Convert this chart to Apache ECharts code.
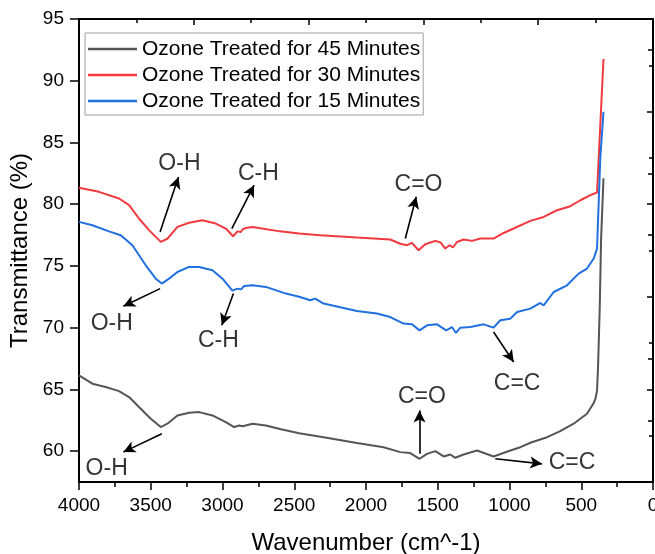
<!DOCTYPE html>
<html>
<head>
<meta charset="utf-8">
<script src="https://cdn.jsdelivr.net/npm/echarts@6/dist/echarts.min.js"></script>
<style>
  html, body { margin: 0; padding: 0; background: #fff; }
  #canvas { width: 655px; height: 554px; }
</style>
</head>
<body>
<div id="canvas"></div>
<script>
// legend names
var names = ['Ozone Treated for 45 Minutes', 'Ozone Treated for 30 Minutes', 'Ozone Treated for 15 Minutes'];

// 45 minutes (black)
var wn45 = [4000, 3907, 3814, 3721, 3651, 3582, 3500, 3430, 3384, 3314, 3233, 3163, 3070, 2977, 2919, 2884, 2860, 2791, 2698, 2600, 2466, 2296, 2063, 1878, 1761, 1692, 1627, 1575, 1517, 1459, 1413, 1378, 1320, 1226, 1111, 994, 924, 850, 738, 650, 553, 460, 413, 401, 390, 383, 371, 362, 345];
var t45 = [66.14, 65.46, 65.19, 64.86, 64.38, 63.57, 62.62, 61.95, 62.22, 62.89, 63.11, 63.16, 62.89, 62.35, 61.95, 62.08, 62.02, 62.22, 62.08, 61.8, 61.45, 61.13, 60.65, 60.32, 59.92, 59.84, 59.38, 59.78, 60.0, 59.57, 59.73, 59.46, 59.73, 60.05, 59.57, 60.05, 60.32, 60.7, 61.13, 61.6, 62.22, 63.03, 63.9, 64.25, 64.9, 66.8, 71.7, 77.1, 82.1];

// 30 minutes (red)
var wn30 = [4000, 3861, 3721, 3651, 3582, 3512, 3430, 3384, 3314, 3233, 3140, 3047, 2977, 2926, 2896, 2872, 2860, 2837, 2791, 2600, 2466, 2319, 2063, 1831, 1761, 1715, 1680, 1634, 1587, 1517, 1480, 1448, 1418, 1394, 1366, 1320, 1261, 1203, 1111, 1041, 971, 855, 762, 669, 576, 506, 436, 390, 345];
var t30 = [81.33, 81.0, 80.46, 79.92, 78.84, 77.9, 76.95, 77.2, 78.16, 78.5, 78.7, 78.43, 78.03, 77.4, 77.8, 77.75, 77.95, 78.08, 78.16, 77.8, 77.62, 77.49, 77.3, 77.14, 76.8, 76.68, 76.87, 76.27, 76.76, 77.03, 76.9, 76.41, 76.68, 76.49, 76.94, 77.14, 77.03, 77.22, 77.22, 77.67, 78.03, 78.65, 78.97, 79.51, 79.84, 80.32, 80.73, 80.95, 91.76];

// 15 minutes (blue)
var wn15 = [4000, 3907, 3791, 3709, 3628, 3535, 3465, 3423, 3372, 3314, 3233, 3163, 3070, 3000, 2931, 2896, 2870, 2849, 2791, 2698, 2558, 2466, 2389, 2354, 2296, 2063, 1924, 1831, 1738, 1680, 1627, 1575, 1505, 1441, 1401, 1373, 1343, 1273, 1180, 1111, 1064, 994, 947, 855, 785, 762, 692, 599, 518, 460, 413, 390, 378, 367, 345];
var t15 = [78.57, 78.3, 77.8, 77.49, 76.68, 75.05, 73.97, 73.57, 73.97, 74.51, 74.92, 74.92, 74.65, 73.97, 73.0, 73.16, 73.1, 73.38, 73.43, 73.3, 72.76, 72.5, 72.22, 72.35, 71.95, 71.35, 71.14, 70.86, 70.33, 70.27, 69.78, 70.19, 70.27, 69.78, 70.05, 69.57, 70.0, 70.05, 70.27, 70.0, 70.6, 70.73, 71.27, 71.54, 72.0, 71.8, 72.89, 73.43, 74.38, 74.79, 75.6, 76.4, 80.3, 83.8, 87.49];

// axis ticks
var yMajor = [60, 65, 70, 75, 80, 85, 90, 95];
var yMinor = [62.5, 67.5, 72.5, 77.5, 82.5, 87.5, 92.5];

// annotations: label text, label position, arrow tail, arrow tip (data units)
var notes = [
	{ text: 'O-H', at: [3300, 83.3], from: [3435, 77.75], to: [3307, 82.2] },
	{ text: 'C-H', at: [2750, 82.5], from: [2935, 78.03], to: [2780, 81.54] },
	{ text: 'C=O', at: [1634, 81.55], from: [1726, 77.22], to: [1650, 80.6] },
	{ text: 'O-H', at: [3772, 70.33], from: [3435, 73.16], to: [3691, 71.73] },
	{ text: 'C-H', at: [3029, 68.97], from: [2924, 72.76], to: [3005, 70.19] },
	{ text: 'C=C', at: [947, 65.46], from: [1111, 69.65], to: [971, 67.22] },
	{ text: 'O-H', at: [3807, 58.57], from: [3423, 61.41], to: [3691, 59.92] },
	{ text: 'C=O', at: [1610, 64.38], from: [1627, 59.78], to: [1627, 63.3] },
	{ text: 'C=C', at: [564, 59.05], from: [1099, 59.38], to: [773, 58.97] }
];

var colors = ['#555555', '#f03a3f', '#2170e0'];
var font = 'Liberation Sans, Arial, sans-serif';

function zip(xs, ys) {
	return xs.map(function (x, i) { return [x, ys[i]]; });
}

var myChart = echarts.init(document.getElementById('canvas'), null, { renderer: 'canvas' });

var option = {
	animation: false,
	textStyle: { fontFamily: font, color: '#000' },
	grid: { left: 79, right: 2, top: 19, bottom: 72, containLabel: false, outerBoundsMode: 'none' },
	legend: {
		orient: 'vertical',
		left: 85, top: 33,
		data: names,
		icon: 'rect',
		borderColor: '#a0a0a0', borderWidth: 1,
		padding: [5, 3, 3, 3],
		itemWidth: 49, itemGap: 4, itemHeight: 2.5,
		textStyle: { fontSize: 21, color: '#000', lineHeight: 22, fontFamily: font }
	},
	xAxis: [
		{
			type: 'value', min: 0, max: 4000, interval: 500, inverse: true, position: 'bottom',
			name: 'Wavenumber (cm^-1)', nameLocation: 'middle', nameGap: 49,
			nameTextStyle: { fontSize: 24, color: '#000', fontFamily: font },
			axisLine: { show: true, onZero: false, lineStyle: { color: '#000', width: 2 } },
			axisTick: { show: true, length: 8, lineStyle: { color: '#000', width: 1.5 } },
			minorTick: { show: true, splitNumber: 2, length: 5, lineStyle: { color: '#000', width: 1.5 } },
			axisLabel: { fontSize: 19, color: '#000', margin: 14, fontFamily: font, formatter: function (v) { return String(v); } },
			splitLine: { show: false }, minorSplitLine: { show: false }
		},
		{
			type: 'value', min: 0, max: 5, interval: 1, position: 'top',
			axisLine: { show: true, onZero: false, lineStyle: { color: '#000', width: 2 } },
			axisTick: { show: true, inside: true, length: 6, lineStyle: { color: '#000', width: 1.5 } },
			minorTick: { show: true, splitNumber: 2, length: 4, lineStyle: { color: '#000', width: 1.5 } },
			axisLabel: { show: false }, splitLine: { show: false }
		}
	],
	yAxis: [
		{
			type: 'value', min: 57.5, max: 95, position: 'left',
			name: 'Transmittance (%)', nameLocation: 'middle', nameGap: 44,
			nameTextStyle: { fontSize: 24, color: '#000', fontFamily: font, padding: [0, 0, 0, 0] },
			axisLine: { show: true, onZero: false, lineStyle: { color: '#000', width: 2 } },
			axisTick: { show: true, length: 9, customValues: yMajor, lineStyle: { color: '#000', width: 1.5 } },
			axisLabel: { fontSize: 19, color: '#000', margin: 15, customValues: yMajor, fontFamily: font },
			splitLine: { show: false }
		},
		{
			type: 'value', min: 0, max: 5, interval: 1, position: 'right',
			axisLine: { show: true, onZero: false, lineStyle: { color: '#000', width: 2 } },
			axisTick: { show: true, inside: true, length: 6, lineStyle: { color: '#000', width: 1.5 } },
			minorTick: { show: true, splitNumber: 2, length: 4, lineStyle: { color: '#000', width: 1.5 } },
			axisLabel: { show: false }, splitLine: { show: false }
		},
		{
			type: 'value', min: 57.5, max: 95, position: 'left', offset: 0,
			axisLine: { show: false },
			axisTick: { show: true, length: 5, customValues: yMinor, lineStyle: { color: '#000', width: 1.5 } },
			axisLabel: { show: false }, splitLine: { show: false }
		}
	],
	series: [
		{
			name: names[0], type: 'line', symbol: 'none', data: zip(wn45, t45),
			lineStyle: { color: colors[0], width: 2 }, itemStyle: { color: colors[0] }, z: 3
		},
		{
			name: names[1], type: 'line', symbol: 'none', data: zip(wn30, t30),
			lineStyle: { color: colors[1], width: 2 }, itemStyle: { color: colors[1] }, z: 2
		},
		{
			name: names[2], type: 'line', symbol: 'none', data: zip(wn15, t15),
			lineStyle: { color: colors[2], width: 2 }, itemStyle: { color: colors[2] }, z: 4
		},
		{
			// annotation arrows
			name: 'arrows', type: 'line', data: [], z: 5, silent: true,
			markLine: {
				silent: true, symbol: ['none', 'arrow'], symbolSize: [9, 12],
				lineStyle: { color: '#000', width: 1.6, type: 'solid' },
				label: { show: false },
				data: notes.map(function (n) { return [{ coord: n.from }, { coord: n.to }]; })
			}
		},
		{
			// annotation labels
			name: 'labels', type: 'scatter', symbolSize: 0, silent: true, z: 6,
			data: notes.map(function (n) { return { value: n.at, name: n.text }; }),
			label: {
				show: true, position: 'inside', formatter: '{b}',
				fontSize: 23, color: '#000', fontFamily: font
			}
		}
	]
};

myChart.setOption(option);
</script>
</body>
</html>
